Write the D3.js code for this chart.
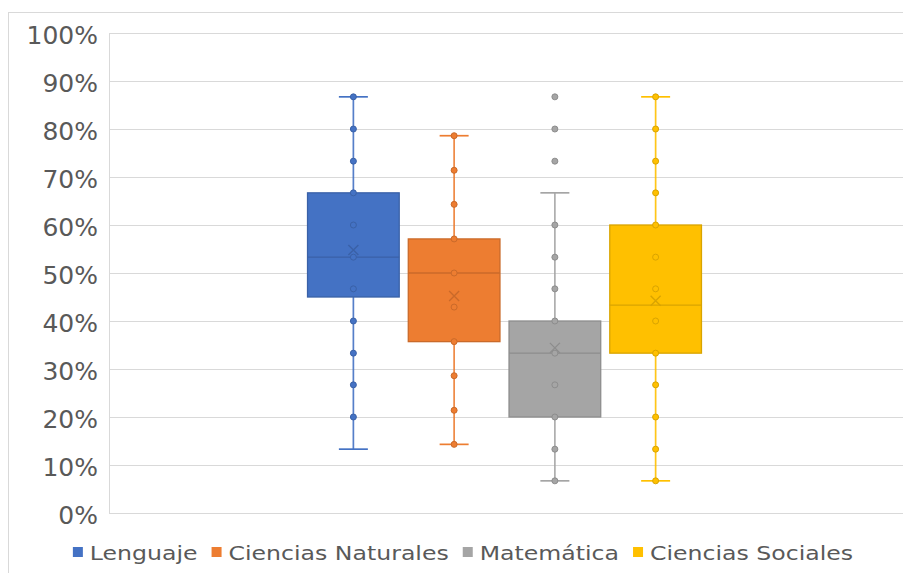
<!DOCTYPE html>
<html><head><meta charset="utf-8">
<script src="https://cdn.jsdelivr.net/npm/d3@7"></script>
<style>body{margin:0;background:#fff}svg{display:block}</style>
</head><body>
<svg id="chart" width="903" height="573"></svg>
<script>
// ---- data ----
const categories = [""];
const series = ["Lenguaje", "Ciencias Naturales", "Matemática", "Ciencias Sociales"];
const colors = ["#4472C4", "#ED7D31", "#A5A5A5", "#FFC000"];
const yTicks = [0, 0.1, 0.2, 0.3, 0.4, 0.5, 0.6, 0.7, 0.8, 0.9, 1.0];
const q1 = [0.450, 0.357, 0.200, 0.333];
const median = [0.533, 0.500, 0.333, 0.433];
const q3 = [0.667, 0.571, 0.400, 0.600];
const mean = [0.548, 0.452, 0.344, 0.442];
const whiskerLow = [0.133, 0.143, 0.067, 0.067];
const whiskerHigh = [0.867, 0.786, 0.667, 0.867];
const pointsLenguaje = [0.867, 0.800, 0.733, 0.667, 0.600, 0.533, 0.467, 0.400, 0.333, 0.267, 0.200];
const pointsNaturales = [0.786, 0.714, 0.643, 0.571, 0.500, 0.429, 0.357, 0.286, 0.214, 0.143];
const pointsMatematica = [0.867, 0.800, 0.733, 0.600, 0.533, 0.467, 0.400, 0.333, 0.267, 0.200, 0.133, 0.067];
const pointsSociales = [0.867, 0.800, 0.733, 0.667, 0.600, 0.533, 0.467, 0.400, 0.333, 0.267, 0.200, 0.133, 0.067];
const points = [pointsLenguaje, pointsNaturales, pointsMatematica, pointsSociales];

// ---- layout ----
const svg = d3.select("#chart");
const mLeft = 109, mRight = 900, mTop = 33, mBottom = 513, gridRight = 903;
const textColor = "#595959", gridColor = "#d9d9d9";

svg.append("rect").attr("x", 8.5).attr("y", 12.5).attr("width", 1000).attr("height", 1000)
  .attr("fill", "none").attr("stroke", gridColor);

const y = d3.scaleLinear().domain([0, 1]).range([mBottom, mTop]);
const xCat = d3.scaleBand().domain(categories).range([mLeft, mRight]).paddingOuter(0.4814);
const xSer = d3.scaleBand().domain(series).range([0, xCat.bandwidth()]).paddingInner(0.09).paddingOuter(0.045);

// gridlines + labels
const axis = svg.append("g").attr("transform", `translate(${mLeft},0)`)
  .call(d3.axisLeft(y).tickValues(yTicks).tickSize(-(gridRight - mLeft)).tickPadding(11).tickFormat(d3.format(".0%")));
axis.select(".domain").remove();
axis.selectAll(".tick line").attr("stroke", gridColor).attr("stroke-width", 1);
axis.selectAll(".tick text").attr("fill", textColor).attr("font-family", "DejaVu Sans, sans-serif")
  .attr("font-size", 25).attr("dy", "0.42em");
svg.append("line").attr("x1", mLeft + 0.5).attr("x2", mLeft + 0.5).attr("y1", y(1)).attr("y2", y(0))
  .attr("stroke", gridColor);

// boxes
const g = svg.append("g").attr("transform", `translate(${xCat("")},0)`);
series.forEach((s, i) => {
  const c = colors[i];
  const dark = d3.color(c).darker(0.45).formatHex();
  const x0 = xSer(s), bw = xSer.bandwidth(), cx = x0 + bw / 2, cap = 14.5;
  const sg = g.append("g");
  [[q3[i], whiskerHigh[i]], [whiskerLow[i], q1[i]]].forEach(([a, b]) => {
    sg.append("line").attr("x1", cx).attr("x2", cx).attr("y1", y(a)).attr("y2", y(b))
      .attr("stroke", c).attr("stroke-width", 1.7).attr("opacity", 0.9);
  });
  [whiskerHigh[i], whiskerLow[i]].forEach(v => {
    sg.append("line").attr("x1", cx - cap).attr("x2", cx + cap).attr("y1", y(v)).attr("y2", y(v))
      .attr("stroke", c).attr("stroke-width", 1.7);
  });
  sg.append("rect").attr("x", x0).attr("width", bw).attr("y", y(q3[i])).attr("height", y(q1[i]) - y(q3[i]))
    .attr("fill", c).attr("stroke", dark).attr("stroke-width", 1.3);
  sg.append("line").attr("x1", x0).attr("x2", x0 + bw).attr("y1", y(median[i])).attr("y2", y(median[i]))
    .attr("stroke", dark).attr("stroke-width", 1.4);
  sg.selectAll("circle").data(points[i]).join("circle")
    .attr("cx", cx).attr("cy", d => y(d)).attr("r", 3)
    .attr("fill", c).attr("stroke", dark).attr("stroke-width", 1);
  const my = y(mean[i]), m = 5;
  sg.append("path").attr("d", `M${cx - m},${my - m}L${cx + m},${my + m}M${cx - m},${my + m}L${cx + m},${my - m}`)
    .attr("stroke", dark).attr("stroke-width", 1.4).attr("fill", "none");
});

// legend
const lg = svg.append("g");
const stretch = 1.18, sq = 10, gapText = 7, gapItem = 14, legendY = 553;
const items = series.map((s, i) => {
  const t = lg.append("text").text(s).attr("font-family", "DejaVu Sans, sans-serif").attr("font-size", 20)
    .attr("fill", textColor).attr("y", legendY).attr("dy", "0.36em");
  const w = t.node().getComputedTextLength() * stretch;
  t.attr("textLength", w).attr("lengthAdjust", "spacingAndGlyphs");
  return {t, w, c: colors[i]};
});
const total = d3.sum(items, d => sq + gapText + d.w) + gapItem * (items.length - 1);
let lx = 463 - total / 2;
items.forEach(d => {
  lg.append("rect").attr("x", lx).attr("y", legendY - 6).attr("width", sq).attr("height", sq).attr("fill", d.c);
  d.t.attr("x", lx + sq + gapText);
  lx += sq + gapText + d.w + gapItem;
});
</script>
</body></html>
